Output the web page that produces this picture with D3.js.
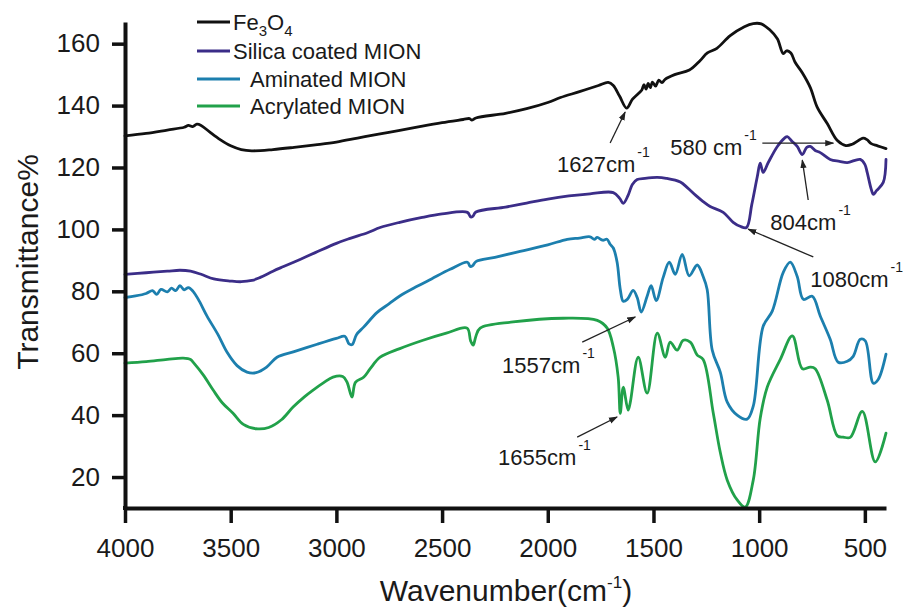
<!DOCTYPE html>
<html>
<head>
<meta charset="utf-8">
<script src="https://cdn.jsdelivr.net/npm/d3@7"></script>
<style>
  html, body { margin: 0; padding: 0; background: #fff; }
  svg { display: block; font-family: "Liberation Sans", Arial, sans-serif; }
</style>
</head>
<body>
<svg id="chart" width="904" height="610"></svg>
<script>
// ---------------- data (wavenumber cm^-1, transmittance %) ----------------
const xTicks = [4000, 3500, 3000, 2500, 2000, 1500, 1000, 500];
const yTicks = [20, 40, 60, 80, 100, 120, 140, 160];
const seriesNames = ["Fe3O4", "Silica coated MION", "Aminated MION", "Acrylated MION"];
const seriesColors = ["#111111", "#3b2d88", "#1c7fae", "#21a14a"];

const fe3o4 = [
  [4000,130.2],[3900,131.0],[3800,132.1],[3720,133.0],[3700,133.6],[3680,133.2],[3660,134.0],[3640,133.6],
  [3600,131.5],[3550,129.0],[3500,127.0],[3450,125.8],[3400,125.4],[3300,125.8],[3200,126.5],[3100,127.3],
  [3000,128.2],[2900,129.5],[2800,130.8],[2700,132.0],[2600,133.3],[2500,134.5],[2400,135.5],[2370,135.8],
  [2360,135.3],[2340,136.0],[2200,137.5],[2100,139.0],[2000,141.0],[1940,142.6],[1850,144.5],[1760,146.5],
  [1714,147.5],[1690,146.5],[1660,143.0],[1627,139.2],[1600,142.0],[1570,144.0],[1555,145.0],[1545,146.8],
  [1535,145.3],[1525,147.2],[1515,145.8],[1505,147.6],[1490,146.3],[1475,148.2],[1460,147.4],[1445,148.5],
  [1400,150.0],[1330,151.5],[1280,154.5],[1245,157.0],[1200,158.5],[1137,162.6],[1070,165.5],[1028,166.5],
  [990,166.4],[950,164.5],[914,161.6],[886,156.8],[870,157.7],[850,157.0],[830,154.0],[796,150.6],
  [758,145.8],[725,139.4],[678,134.2],[630,128.7],[590,127.1],[560,127.5],[508,129.5],[490,129.0],
  [470,127.7],[440,127.0],[400,126.1]
];

const silica = [
  [4000,85.5],[3900,86.0],[3800,86.5],[3740,86.8],[3690,86.5],[3640,85.5],[3580,84.0],[3500,83.3],
  [3450,83.1],[3400,83.5],[3360,84.5],[3300,86.5],[3250,88.0],[3172,90.3],[3100,92.5],[3000,95.5],
  [2935,97.1],[2850,99.0],[2793,100.6],[2700,102.3],[2600,103.8],[2500,105.0],[2380,105.5],[2365,104.0],
  [2355,104.2],[2340,105.6],[2200,107.2],[2100,108.5],[2000,109.8],[1900,110.8],[1800,111.5],[1690,111.9],
  [1660,110.0],[1643,108.4],[1620,111.0],[1600,114.5],[1577,116.1],[1540,116.5],[1482,116.8],[1440,116.5],
  [1373,115.3],[1340,113.5],[1300,111.0],[1265,109.0],[1232,107.4],[1170,105.5],[1123,102.3],[1090,101.0],
  [1060,100.6],[1035,108.0],[1009,117.0],[995,121.4],[981,118.4],[957,121.6],[914,126.8],[880,129.5],
  [867,130.0],[845,128.5],[820,126.8],[796,124.2],[775,126.5],[758,126.8],[735,125.5],[711,124.8],
  [664,122.6],[620,122.0],[583,121.6],[522,122.6],[500,121.0],[489,118.4],[470,113.0],[460,111.3],
  [445,112.5],[413,115.2],[400,122.6]
];

const aminated = [
  [4000,78.0],[3950,78.5],[3900,79.3],[3870,80.2],[3850,79.0],[3830,80.6],[3800,79.8],[3780,81.0],
  [3760,80.2],[3740,81.8],[3720,80.5],[3700,81.2],[3678,80.0],[3650,77.0],[3612,72.0],[3560,66.0],
  [3517,60.3],[3470,56.0],[3423,53.9],[3380,53.7],[3330,55.5],[3281,58.7],[3200,60.5],[3091,62.9],
  [3000,64.8],[2960,65.5],[2940,63.0],[2925,62.8],[2905,66.0],[2870,68.5],[2807,73.2],[2750,76.0],
  [2700,78.5],[2618,81.6],[2550,84.0],[2462,87.1],[2380,89.4],[2367,88.0],[2355,88.3],[2340,89.6],
  [2250,91.0],[2131,92.9],[2000,95.0],[1908,96.8],[1850,97.2],[1800,97.6],[1780,96.8],[1766,97.4],
  [1740,96.5],[1720,96.8],[1705,95.2],[1690,94.0],[1672,89.4],[1657,80.6],[1643,76.8],[1624,77.4],
  [1596,80.3],[1577,78.0],[1558,73.3],[1530,78.4],[1511,81.8],[1487,77.0],[1454,84.5],[1425,89.4],
  [1397,85.5],[1364,91.9],[1331,85.0],[1293,88.5],[1265,84.8],[1246,80.6],[1222,61.0],[1184,53.9],
  [1151,44.2],[1104,40.0],[1057,38.7],[1028,42.9],[981,68.7],[938,73.6],[886,86.1],[853,89.4],
  [820,84.8],[791,77.4],[749,78.4],[711,72.0],[664,64.5],[626,57.1],[583,57.4],[555,59.0],
  [522,64.5],[498,64.0],[460,50.3],[437,51.5],[400,59.7]
];

const acrylated = [
  [4000,56.8],[3900,57.3],[3800,58.0],[3725,58.4],[3690,58.0],[3678,57.1],[3630,53.0],[3583,48.1],
  [3540,44.0],[3489,40.6],[3440,37.0],[3380,35.6],[3320,36.0],[3260,38.5],[3205,42.6],[3150,46.0],
  [3110,48.1],[3060,50.5],[3016,52.3],[2970,52.5],[2950,50.7],[2926,45.8],[2910,50.6],[2870,52.3],
  [2840,55.0],[2793,58.7],[2700,61.5],[2590,64.2],[2480,66.5],[2382,68.1],[2365,64.0],[2353,62.6],
  [2340,65.5],[2320,68.1],[2164,70.1],[1927,71.3],[1766,70.6],[1719,68.1],[1690,62.0],[1667,52.3],
  [1657,40.6],[1643,49.0],[1620,41.6],[1610,44.0],[1572,58.7],[1530,47.1],[1482,66.5],[1444,58.7],
  [1421,63.6],[1388,61.0],[1359,64.2],[1326,63.6],[1293,59.4],[1265,58.0],[1217,40.6],[1184,28.0],
  [1151,19.0],[1104,12.6],[1066,10.3],[1028,19.0],[995,39.0],[962,49.0],[900,58.0],[843,65.6],
  [796,55.0],[758,55.5],[735,55.0],[678,44.8],[630,33.3],[602,32.9],[569,32.8],[512,41.2],
  [451,24.9],[400,34.2]
];

// annotations: [text, text-wavenumber, text-value, arrowFromW, arrowFromV, arrowToW, arrowToV]
const annotations = [
  ["1627cm", 1956, 118.5, 1705, 127.9, 1634, 137.9],
  ["580 cm", 1421, 124.0,  985, 127.9,  649, 127.9],
  ["804cm",   947,  99.8,  768, 109.5,  796, 122.4],
  ["1080cm",  758,  81.4,  744,  91.1, 1052, 100.1],
  ["1557cm", 2216,  53.6, 1837,  63.6, 1586,  71.7],
  ["1655cm", 2235,  23.9, 1861,  32.9, 1672,  39.4]
];

// ---------------- drawing ----------------
const svg = d3.select("#chart");
const x = d3.scaleLinear().domain([4000, 400]).range([125, 886]);
const y = d3.scaleLinear().domain([10, 167]).range([508, 22]);

const defs = svg.append("defs");
defs.append("marker")
  .attr("id", "arrow").attr("viewBox", "0 0 10 10")
  .attr("refX", 9).attr("refY", 5)
  .attr("markerWidth", 9).attr("markerHeight", 9)
  .attr("markerUnits", "userSpaceOnUse")
  .attr("orient", "auto")
  .append("path").attr("d", "M0,1.5 L10,5 L0,8.5 Z").attr("fill", "#222");

const line = d3.line()
  .x(d => x(d[0])).y(d => y(d[1]))
  .curve(d3.curveCatmullRom.alpha(0.5));

const allSeries = [acrylated, aminated, silica, fe3o4];
const allColors = [seriesColors[3], seriesColors[2], seriesColors[1], seriesColors[0]];
allSeries.forEach((s, i) => {
  svg.append("path")
    .datum(s)
    .attr("d", line)
    .attr("fill", "none")
    .attr("stroke", allColors[i])
    .attr("stroke-width", 2.8)
    .attr("stroke-linejoin", "round")
    .attr("stroke-linecap", "round");
});

// axes
const xAxis = d3.axisBottom(x).tickValues(xTicks).tickFormat(d3.format("d"))
  .tickSize(15).tickSizeOuter(0).tickPadding(16);
const yAxis = d3.axisLeft(y).tickValues(yTicks).tickFormat(d3.format("d"))
  .tickSize(13).tickSizeOuter(0).tickPadding(12);

const gx = svg.append("g").attr("transform", "translate(0,508)").call(xAxis);
const gy = svg.append("g").attr("transform", "translate(125,0)").call(yAxis);
[gx, gy].forEach(g => {
  g.select(".domain").attr("stroke", "#111").attr("stroke-width", 4);
  g.selectAll(".tick line").attr("stroke", "#111").attr("stroke-width", 3.5);
  g.selectAll(".tick text").attr("fill", "#1a1a1a")
    .style("font-family", "'Liberation Sans', Arial, sans-serif")
    .style("font-size", "26px");
});
// join y axis with x axis at the corner
svg.append("line").attr("x1", 125).attr("x2", 125).attr("y1", 506).attr("y2", 510)
  .attr("stroke", "#111").attr("stroke-width", 4);

// axis titles
svg.append("text")
  .attr("transform", "translate(38,262) rotate(-90)")
  .attr("text-anchor", "middle")
  .attr("fill", "#1a1a1a")
  .style("font-size", "30px")
  .text("Transmittance%");

const xt = svg.append("text")
  .attr("x", 506).attr("y", 601)
  .attr("text-anchor", "middle")
  .attr("fill", "#1a1a1a")
  .style("font-size", "30px");
xt.append("tspan").text("Wavenumber(cm");
xt.append("tspan").attr("dy", -13).style("font-size", "17px").text("-1");
xt.append("tspan").attr("dy", 13).text(")");

// annotations
annotations.forEach(a => {
  const t = svg.append("text")
    .attr("x", x(a[1])).attr("y", y(a[2]))
    .attr("fill", "#1a1a1a")
    .style("font-size", "22px");
  t.append("tspan").text(a[0]);
  t.append("tspan").attr("dy", -15).attr("dx", 2).style("font-size", "14px").text("-1");
  svg.append("line")
    .attr("x1", x(a[3])).attr("y1", y(a[4]))
    .attr("x2", x(a[5])).attr("y2", y(a[6]))
    .attr("stroke", "#222").attr("stroke-width", 1.3)
    .attr("marker-end", "url(#arrow)");
});

// legend
const legendRows = [
  { y: 22, x1: 197, x2: 230, tx: 233 },
  { y: 51, x1: 197, x2: 230, tx: 233 },
  { y: 79, x1: 197, x2: 240, tx: 250 },
  { y: 106, x1: 197, x2: 240, tx: 250 }
];
legendRows.forEach((r, i) => {
  svg.append("line")
    .attr("x1", r.x1).attr("x2", r.x2).attr("y1", r.y).attr("y2", r.y)
    .attr("stroke", seriesColors[i]).attr("stroke-width", 3);
  const t = svg.append("text")
    .attr("x", r.tx).attr("y", r.y + 8)
    .attr("fill", "#1a1a1a")
    .style("font-size", "22px");
  if (i === 0) {
    t.append("tspan").text("Fe");
    t.append("tspan").attr("dy", 6).style("font-size", "15px").text("3");
    t.append("tspan").attr("dy", -6).text("O");
    t.append("tspan").attr("dy", 6).style("font-size", "15px").text("4");
  } else {
    t.text(seriesNames[i]);
  }
});
</script>
</body>
</html>
